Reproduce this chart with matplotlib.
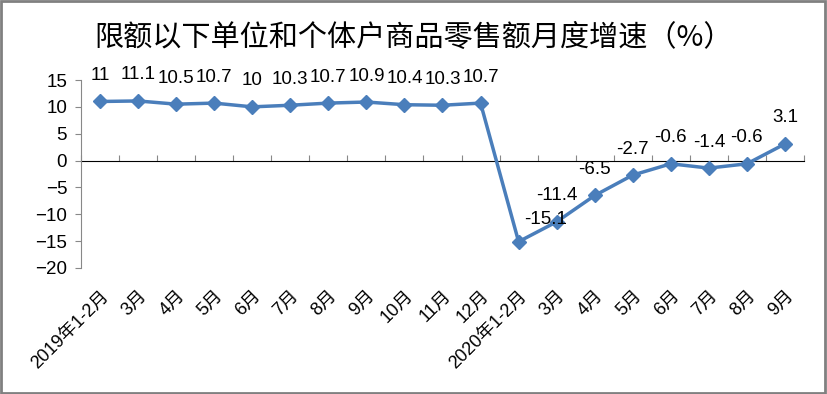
import numpy as np
import matplotlib
matplotlib.use("Agg")
import matplotlib.pyplot as plt
from matplotlib.patches import Rectangle

plt.rcParams['font.family'] = ['Liberation Sans', 'Noto Sans CJK SC', 'DejaVu Sans']

# data
months = ['2019年1-2月', '3月', '4月', '5月', '6月', '7月', '8月', '9月', '10月', '11月',
          '12月', '2020年1-2月', '3月', '4月', '5月', '6月', '7月', '8月', '9月']
growth = [11, 11.1, 10.5, 10.7, 10, 10.3, 10.7, 10.9, 10.4, 10.3,
          10.7, -15.1, -11.4, -6.5, -2.7, -0.6, -1.4, -0.6, 3.1]
yticks = [15, 10, 5, 0, -5, -10, -15, -20]
title = '限额以下单位和个体户商品零售额月度增速（%）'

fig = plt.figure(figsize=(8.27, 3.94), dpi=100)
ax = fig.add_axes([81 / 827, 1 - 268 / 394, (804 - 81) / 827, (268 - 80) / 394])

x = np.arange(len(months))
ax.plot(x, growth, color='#4a7ebb', lw=2.5, marker='D', ms=7.5, zorder=3)

# label offsets in pixels (the 2020 1-2 label was pushed right, off the line)
label_shift = {11: (27, 22)}
for xi, v in zip(x, growth):
    dx, dy = label_shift.get(xi, (0, 26))
    ax.annotate('{:g}'.format(v), (xi, v), xytext=(dx, dy), textcoords='offset pixels',
                ha='center', va='center', fontsize=13.5, zorder=4)

ax.set_xlim(-0.5, len(months) - 0.5)
ax.set_ylim(-20, 15)
ax.set_yticks(yticks)
ax.tick_params(axis='y', length=4, color='#888888', labelsize=13.5, pad=6)

# category labels at the bottom, no tick marks
ax.set_xticks(x)
ax.set_xticklabels(months, rotation=45, ha='right', rotation_mode='anchor', fontsize=13)
ax.tick_params(axis='x', length=0, pad=14)

for s in ['top', 'right', 'bottom']:
    ax.spines[s].set_visible(False)
ax.spines['left'].set_color('#888888')

# horizontal axis line at zero with tick marks between categories
sec = ax.secondary_xaxis(20 / 35)
sec.spines['bottom'].set_color('#888888')
sec.set_xticks(np.arange(-0.5, len(months), 1))
sec.set_xticklabels([])
sec.tick_params(length=4, color='#888888', direction='out')

fig.text(0.5, 1 - 38 / 394, title, ha='center', va='center', fontsize=21,
         family=['Noto Sans CJK SC', 'DejaVu Sans'], weight='medium')

fig.patches.append(Rectangle((0.001, 0.002), 0.997, 0.995, transform=fig.transFigure,
                             fill=False, edgecolor='#808080', lw=2))

fig.savefig('out.png', dpi=100)
